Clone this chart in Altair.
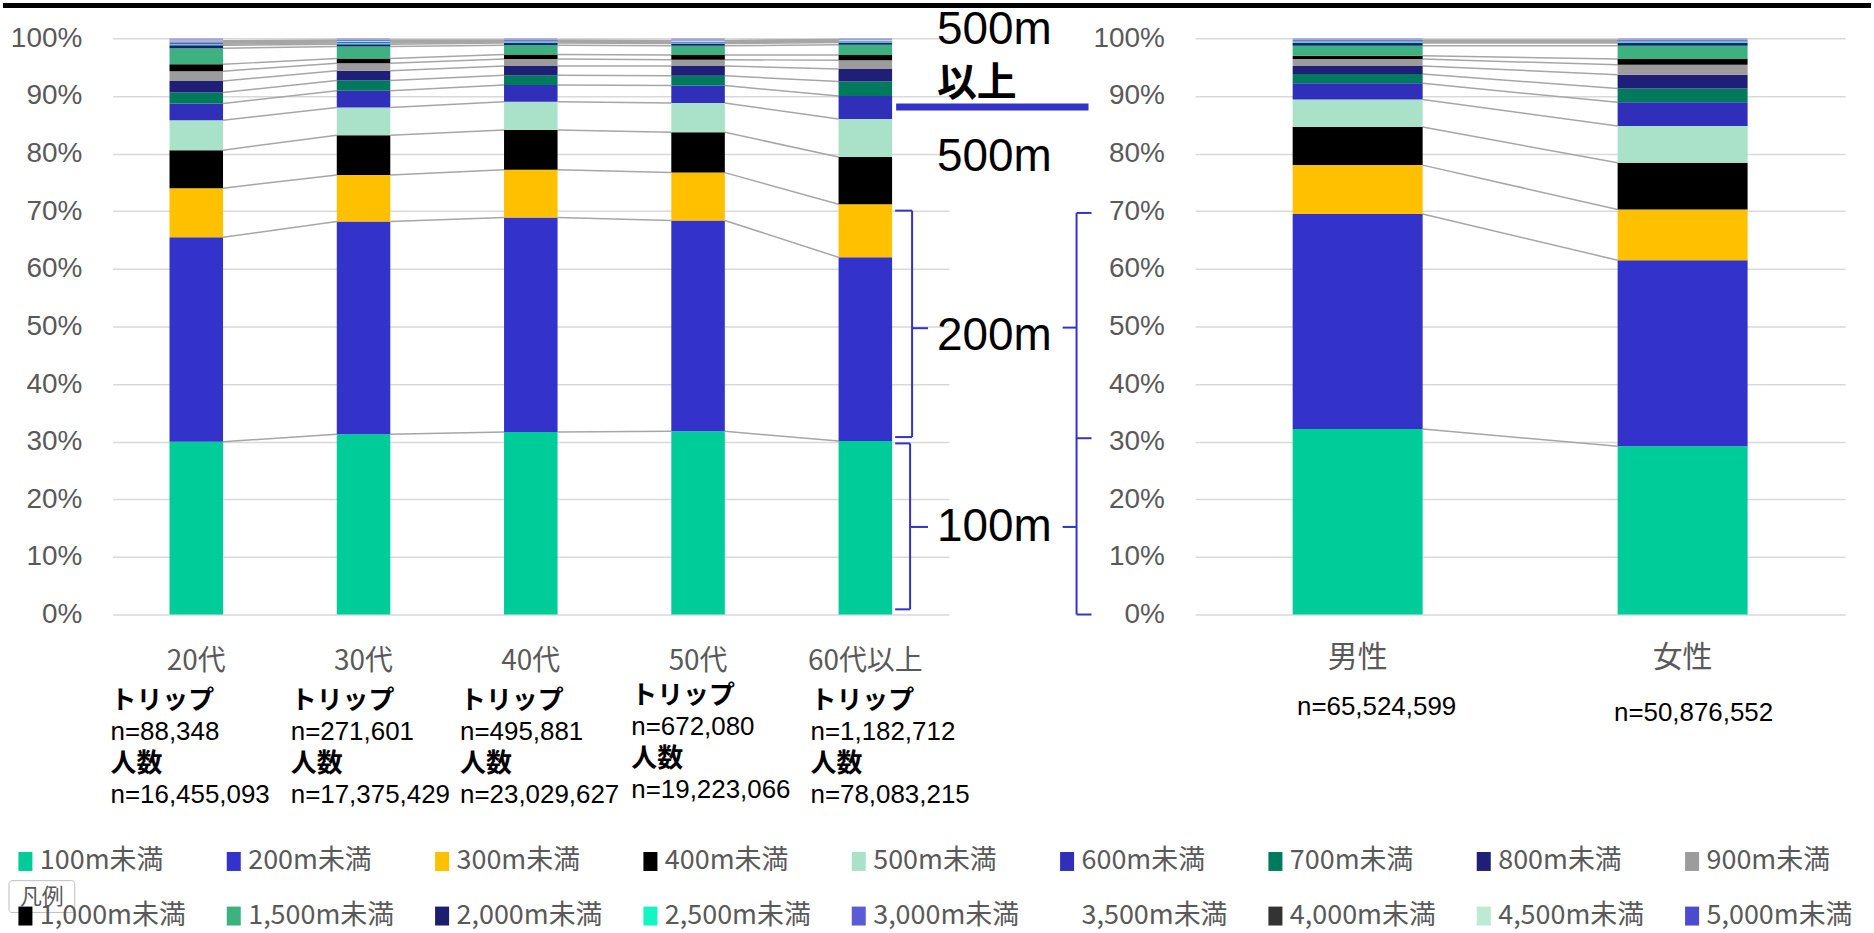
import itertools

import altair as alt
import pandas as pd

# ---------------------------------------------------------------- data
bands = [
    "100m未満", "200m未満", "300m未満", "400m未満", "500m未満", "600m未満",
    "700m未満", "800m未満", "900m未満", "1,000m未満", "1,500m未満", "2,000m未満",
    "2,500m未満", "3,000m未満", "3,500m未満", "4,000m未満", "4,500m未満",
    "5,000m未満", "5,000m以上",
]
band_colors = [
    "#00CC99", "#3333CC", "#FFC000", "#000000", "#A9E2C8", "#2F2FBA",
    "#007A5C", "#1F1F78", "#9C9C9C", "#000000", "#3DB17F", "#1E1E70",
    "#14F5C4", "#5B5BD6", "#FFFFFF", "#333333", "#BDEAD5", "#4B4BD0", "#A3A3DD",
]

age_groups = ["20代", "30代", "40代", "50代", "60代以上"]
share_20s = [30.0, 35.5, 8.5, 6.6, 5.2, 2.9, 1.9, 2.0, 1.7, 1.2, 2.8, 0.5, 0.2, 0.2, 0.1, 0.1, 0.1, 0.1, 0.4]
share_30s = [31.3, 36.9, 8.1, 6.9, 4.8, 2.9, 1.8, 1.7, 1.3, 0.8, 2.1, 0.4, 0.2, 0.15, 0.1, 0.05, 0.1, 0.1, 0.3]
share_40s = [31.7, 37.2, 8.3, 6.9, 4.9, 2.9, 1.7, 1.6, 1.2, 0.8, 1.6, 0.4, 0.15, 0.1, 0.05, 0.05, 0.05, 0.1, 0.3]
share_50s = [31.8, 36.6, 8.3, 7.0, 5.1, 3.0, 1.7, 1.7, 1.1, 0.8, 1.6, 0.4, 0.15, 0.1, 0.05, 0.05, 0.1, 0.1, 0.35]
share_60s = [30.1, 31.9, 9.2, 8.2, 6.6, 4.0, 2.5, 2.2, 1.5, 0.9, 1.8, 0.4, 0.15, 0.1, 0.05, 0.05, 0.05, 0.1, 0.2]

genders = ["男性", "女性"]
share_male = [32.2, 37.3, 8.5, 6.6, 4.8, 2.8, 1.6, 1.4, 1.2, 0.6, 1.7, 0.5, 0.15, 0.1, 0.05, 0.05, 0.05, 0.1, 0.3]
share_female = [29.2, 32.3, 8.8, 8.1, 6.4, 4.1, 2.4, 2.4, 1.7, 1.0, 2.3, 0.5, 0.15, 0.1, 0.05, 0.05, 0.05, 0.1, 0.3]

trip_counts = ["n=88,348", "n=271,601", "n=495,881", "n=672,080", "n=1,182,712"]
people_counts = ["n=16,455,093", "n=17,375,429", "n=23,029,627", "n=19,223,066", "n=78,083,215"]
gender_counts = ["n=65,524,599", "n=50,876,552"]

# ---------------------------------------------------------------- layout
W_LEFT, W_RIGHT, H = 839, 652, 578
GAP = 247
GRAY = "#595959"
BRACE = "#3333CC"
LATIN = "Liberation Sans, Arial, sans-serif"
CJK = "Noto Sans CJK JP"

# left offsets of the sample-size captions under each age group
caption_dx = [-86, -73, -71, -67, -55]
caption_dy = [0, 0, 0, -5, 0]
gender_caption_dx = [19, 11]
gender_caption_dy = [0, 6]


def stack_frame(groups, shares_list):
    rows = []
    for g, shares in zip(groups, shares_list):
        y0 = 0.0
        for k, (b, s) in enumerate(zip(bands, shares)):
            rows.append({"group": g, "band": b, "k": k, "y0": y0, "y1": y0 + s})
            y0 += s
    return pd.DataFrame(rows)


def connector_frame(groups, shares_list):
    cums = [list(itertools.accumulate(s)) for s in shares_list]
    rows = []
    for i in range(len(groups) - 1):
        for k in range(len(bands) - 1):
            rows.append({"group": groups[i], "next": groups[i + 1],
                         "ya": cums[i][k], "yb": cums[i + 1][k]})
    return pd.DataFrame(rows)


y_scale = alt.Scale(domain=[0, 100], nice=False, zero=True)
y_axis = alt.Axis(
    values=list(range(0, 101, 10)), labelExpr="datum.value + '%'",
    title=None, ticks=False, domain=False, grid=True, gridColor="#D9D9D9",
    gridWidth=1.5, labelFont=LATIN, labelFontSize=28, labelColor=GRAY,
    labelPadding=31,
)

# tall rectangular swatches (custom path in the [-1, 1] symbol box)
legend = alt.Legend(
    title=None, orient="none", legendX=-101, legendY=812, direction="horizontal",
    columns=9, values=bands[:18],
    symbolType="M-0.74,-1H0.74V1H-0.74Z", symbolSize=361,
    symbolStrokeWidth=0, labelFont=CJK, labelFontSize=27, labelColor=GRAY,
    labelLimit=400, columnPadding=34, rowPadding=27, gridAlign="all",
    labelOffset=1, padding=0,
)
color = alt.Color("band:N", scale=alt.Scale(domain=bands, range=band_colors), legend=legend)
one = pd.DataFrame({"a": [0]})


def panel(groups, shares_list, pad_inner, label_size, label_pad):
    x_scale = alt.Scale(domain=groups, paddingInner=pad_inner, paddingOuter=pad_inner / 2)
    x_axis = alt.Axis(title=None, ticks=False, domain=False, labelAngle=0,
                      labelFont=CJK, labelFontSize=label_size, labelColor=GRAY,
                      labelPadding=label_pad)
    bars = alt.Chart(stack_frame(groups, shares_list)).mark_bar().encode(
        x=alt.X("group:N", scale=x_scale, axis=x_axis, sort=groups),
        y=alt.Y("y1:Q", scale=y_scale, axis=y_axis),
        y2="y0:Q",
        color=color,
        order=alt.Order("k:Q"),
    )
    links = alt.Chart(connector_frame(groups, shares_list)).mark_rule(
        color="#A6A6A6", strokeWidth=1.5
    ).encode(
        x=alt.X("group:N", scale=x_scale, axis=x_axis, sort=groups, bandPosition=1),
        x2=alt.X2("next:N", bandPosition=0),
        y=alt.Y("ya:Q", scale=y_scale, axis=y_axis),
        y2="yb:Q",
    )
    return x_scale, x_axis, links, bars


def hseg(xa, xb, yv, width=2, col=BRACE):
    return alt.Chart(one).mark_rule(color=col, strokeWidth=width).encode(
        x=alt.value(xa), x2=alt.value(xb), y=alt.datum(yv))


def vseg(xv, ya, yb, width=2, col=BRACE):
    return alt.Chart(one).mark_rule(color=col, strokeWidth=width).encode(
        x=alt.value(xv), y=alt.datum(ya), y2=alt.datum(yb))


def label(text, yv, size, font=LATIN, weight="normal"):
    return alt.Chart(one).mark_text(
        text=text, align="left", baseline="middle", font=font, fontSize=size,
        fontWeight=weight, color="black",
    ).encode(x=alt.value(827), y=alt.datum(yv))


# ---------------------------------------------------------------- left panel
xs_l, xa_l, links_l, bars_l = panel(
    age_groups, [share_20s, share_30s, share_40s, share_50s, share_60s], 0.68, 28, 33)

anchor = alt.Chart(one).mark_rect(opacity=0).encode(
    x=alt.value(-110), x2=alt.value(-108), y=alt.value(-37), y2=alt.value(-35))
top_rule = alt.Chart(one).mark_rule(color="black", strokeWidth=5).encode(
    x=alt.value(-110), x2=alt.value(1764), y=alt.value(-33))

captions = []
for i, g in enumerate(age_groups):
    frame = pd.DataFrame({"group": [g], "bold": ["トリップ\n人数"],
                          "counts": [trip_counts[i] + "\n" + people_counts[i]]})
    base = alt.Chart(frame)
    captions.append(base.mark_text(
        align="left", baseline="top", lineBreak="\n", lineHeight=63, font=CJK,
        fontSize=26, fontWeight="bold", color="black", dx=caption_dx[i],
    ).encode(x=alt.X("group:N", scale=xs_l, axis=xa_l, sort=age_groups),
             y=alt.value(652 + caption_dy[i]), text="bold:N"))
    captions.append(base.mark_text(
        align="left", baseline="top", lineBreak="\n", lineHeight=63, font=LATIN,
        fontSize=26, color="black", dx=caption_dx[i],
    ).encode(x=alt.X("group:N", scale=xs_l, axis=xa_l, sort=age_groups),
             y=alt.value(683 + caption_dy[i]), text="counts:N"))

braces = [
    # 200m
    vseg(802, 30.8, 70.1), hseg(785, 802, 70.1), hseg(785, 802, 30.8), hseg(802, 818, 49.7),
    # 100m
    vseg(800, 0.9, 29.7), hseg(785, 800, 29.7), hseg(785, 800, 0.9), hseg(800, 818, 15.2),
    # brace facing the right panel
    vseg(967, 0.0, 69.7), hseg(967, 982, 69.7), hseg(967, 982, 0.0),
    hseg(953, 967, 49.8), hseg(953, 967, 15.2), hseg(967, 982, 30.6),
    # separator under "500m以上"
    hseg(786, 979, 88.1, width=7),
]
notes = [
    label("500m", 101.4, 46),
    label("以上", 92.0, 40, font=CJK, weight="bold"),
    label("500m", 79.4, 46),
    label("200m", 48.4, 46),
    label("100m", 15.2, 46),
]

legend_tag = [
    alt.Chart(one).mark_rect(fill="white", stroke="#BFBFBF", strokeWidth=1, cornerRadius=3).encode(
        x=alt.value(-104), x2=alt.value(-38), y=alt.value(845), y2=alt.value(877)),
    alt.Chart(one).mark_text(text="凡例", font=CJK, fontSize=22, color=GRAY).encode(
        x=alt.value(-71), y=alt.value(861)),
]

left = alt.layer(
    anchor, top_rule, links_l, bars_l, *captions, *braces, *notes, *legend_tag
).properties(width=W_LEFT, height=H)

# ---------------------------------------------------------------- right panel
xs_r, xa_r, links_r, bars_r = panel(genders, [share_male, share_female], 0.6, 30, 28)

gender_captions = []
for i, g in enumerate(genders):
    gender_captions.append(alt.Chart(pd.DataFrame({"group": [g], "t": [gender_counts[i]]})).mark_text(
        align="center", baseline="middle", font=LATIN, fontSize=26, color="black",
        dx=gender_caption_dx[i],
    ).encode(x=alt.X("group:N", scale=xs_r, axis=xa_r, sort=genders),
             y=alt.value(671 + gender_caption_dy[i]), text="t:N"))

right = alt.layer(links_r, bars_r, *gender_captions).properties(width=W_RIGHT, height=H)

chart = alt.hconcat(
    left, right, spacing=GAP, bounds="flush",
    padding={"left": 0, "top": 0, "right": 0, "bottom": 0},
).configure_view(stroke=None)

chart.save("out.html", embed_options={"renderer": "svg", "actions": False})
